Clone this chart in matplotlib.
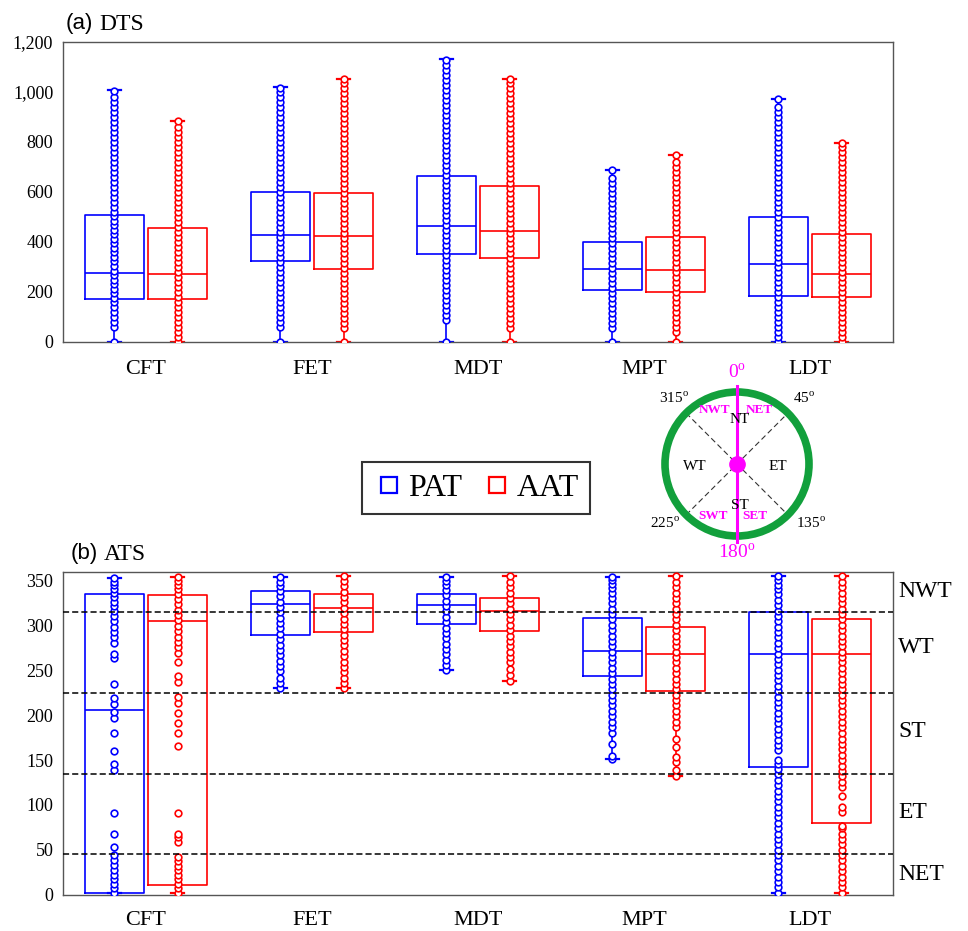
import matplotlib
matplotlib.use("Agg")
import matplotlib.pyplot as plt
from matplotlib.lines import Line2D
from matplotlib.patches import Circle
from matplotlib.ticker import FuncFormatter

plt.rcParams['font.family'] = ['Liberation Serif', 'DejaVu Serif']
plt.rcParams['mathtext.fontset'] = 'custom'
plt.rcParams['mathtext.rm'] = 'Liberation Serif'

W, H = 968, 931

stages = ['CFT', 'FET', 'MDT', 'MPT', 'LDT']
groups = ['PAT', 'AAT']
colors = {'PAT': '#0000ff', 'AAT': '#ff0000'}

# (a) DTS box statistics: whislo, q1, median, q3, whishi
dts_pat = [(0, 172, 276, 508, 1008), (0, 324, 428, 600, 1018), (0, 352, 464, 664, 1132),
           (0, 208, 292, 400, 688), (0, 184, 312, 500, 972)]
dts_aat = [(0, 172, 272, 456, 884), (0, 292, 424, 596, 1052), (0, 336, 444, 624, 1052),
           (0, 200, 288, 420, 748), (0, 180, 272, 432, 796)]

# (b) ATS box statistics
ats_pat = [(2, 2, 206, 335, 353), (230, 290, 324, 339, 354), (251, 302, 323, 336, 354),
           (151, 244, 272, 309, 354), (2, 142, 268, 315, 356)]
ats_aat = [(2, 11, 305, 334, 354), (230, 293, 320, 335, 356), (238, 294, 316, 331, 355),
           (132, 227, 268, 299, 356), (2, 80, 268, 308, 356)]

# individual observations (DTS)
dts_pts_pat = [
    [0, 60, 80, 100, 120, 140, 160, 178, 196, 214, 232, 250, 268, 286, 304, 322, 340, 358, 376,
     394, 412, 430, 448, 466, 484, 502, 520, 540, 560, 580, 600, 620, 640, 660, 680, 700, 720,
     740, 760, 780, 800, 820, 840, 860, 880, 900, 920, 940, 960, 980, 1004],
    [0, 60, 80, 100, 120, 140, 160, 180, 200, 220, 240, 260, 280, 300, 320, 340, 360, 380, 400,
     420, 440, 460, 480, 500, 520, 540, 560, 580, 600, 620, 640, 660, 680, 700, 720, 740, 760,
     780, 800, 820, 840, 860, 880, 900, 920, 940, 960, 980, 1000, 1016],
    [0, 88, 108, 128, 148, 168, 188, 208, 228, 248, 268, 288, 308, 328, 348, 368, 388, 408, 428,
     448, 468, 488, 508, 528, 548, 568, 588, 608, 628, 648, 668, 688, 708, 728, 748, 768, 788,
     808, 828, 848, 868, 888, 908, 928, 948, 968, 988, 1008, 1028, 1048, 1068, 1088, 1108, 1128],
    [0, 56, 76, 96, 116, 136, 156, 176, 196, 216, 236, 256, 276, 296, 316, 336, 356, 376, 396,
     416, 436, 456, 476, 496, 516, 536, 556, 576, 596, 616, 636, 656, 688],
    [0, 20, 40, 60, 80, 100, 120, 140, 160, 180, 200, 220, 240, 260, 280, 300, 320, 340, 360, 380,
     400, 420, 440, 460, 480, 500, 520, 540, 560, 580, 600, 620, 640, 660, 680, 700, 720, 740,
     760, 780, 800, 820, 840, 860, 880, 900, 920, 940, 972],
]
dts_pts_aat = [
    [0, 20, 40, 60, 80, 100, 120, 140, 160, 180, 200, 220, 240, 260, 280, 300, 320, 340, 360, 380,
     400, 420, 440, 460, 480, 500, 520, 540, 560, 580, 600, 620, 640, 660, 680, 700, 720, 740,
     760, 780, 800, 820, 840, 860, 884],
    [0, 56, 76, 96, 116, 136, 156, 176, 196, 216, 236, 256, 276, 296, 316, 336, 356, 376, 396,
     416, 436, 456, 476, 496, 516, 536, 556, 576, 596, 616, 636, 656, 676, 696, 716, 736, 756,
     776, 796, 816, 836, 856, 876, 896, 916, 936, 956, 976, 996, 1016, 1036, 1052],
    [0, 56, 76, 96, 116, 136, 156, 176, 196, 216, 236, 256, 276, 296, 316, 336, 356, 376, 396,
     416, 436, 456, 476, 496, 516, 536, 556, 576, 596, 616, 636, 656, 676, 696, 716, 736, 756,
     776, 796, 816, 836, 856, 876, 896, 916, 936, 956, 976, 996, 1016, 1036, 1052],
    [0, 40, 60, 80, 100, 120, 140, 160, 180, 200, 220, 240, 260, 280, 300, 320, 340, 360, 380, 400,
     420, 440, 460, 480, 500, 520, 540, 560, 580, 600, 620, 640, 660, 680, 700, 720, 748],
    [0, 20, 40, 60, 80, 100, 120, 140, 160, 180, 200, 220, 240, 260, 280, 300, 320, 340, 360, 380,
     400, 420, 440, 460, 480, 500, 520, 540, 560, 580, 600, 620, 640, 660, 680, 700, 720, 740,
     760, 780, 796],
]

# individual observations (ATS)
ats_pts_pat = [
    [2, 7, 12, 17, 22, 27, 33, 38, 44, 53, 67, 91, 139, 146, 160, 180, 197, 204, 213, 219, 235,
     264, 269, 281, 287, 293, 299, 305, 311, 317, 322, 327, 332, 337, 341, 345, 349, 353],
    [230, 236, 242, 249, 255, 261, 267, 273, 279, 285, 291, 297, 303, 309, 315, 321, 327, 333,
     339, 344, 349, 354],
    [251, 256, 262, 268, 274, 280, 286, 292, 298, 304, 310, 316, 322, 328, 334, 340, 345, 350, 354],
    [151, 155, 168, 180, 187, 193, 199, 205, 211, 217, 223, 229, 235, 241, 247, 253, 259, 265,
     271, 277, 283, 289, 295, 301, 307, 313, 319, 325, 331, 337, 342, 347, 351, 354],
    [2, 8, 14, 20, 26, 32, 38, 44, 50, 56, 62, 68, 74, 80, 86, 92, 98, 104, 110, 116, 122, 128,
     134, 140, 146, 150, 161, 167, 173, 179, 185, 191, 197, 203, 209, 215, 221, 227, 233, 239,
     245, 251, 257, 263, 269, 275, 281, 287, 293, 299, 305, 311, 317, 323, 329, 335, 341, 346,
     351, 356],
]
ats_pts_aat = [
    [2, 7, 12, 17, 22, 27, 32, 37, 42, 59, 64, 67, 91, 166, 180, 192, 203, 214, 220, 237, 244,
     259, 270, 276, 282, 288, 294, 300, 306, 312, 318, 324, 330, 336, 341, 346, 350, 354],
    [230, 236, 242, 248, 254, 260, 266, 272, 278, 284, 290, 296, 302, 308, 314, 320, 326, 332,
     338, 344, 350, 356],
    [238, 245, 252, 259, 265, 271, 277, 283, 289, 295, 301, 307, 313, 319, 325, 331, 337, 343,
     349, 355],
    [132, 139, 148, 154, 165, 174, 187, 193, 199, 205, 211, 217, 223, 229, 235, 241, 247, 253,
     259, 265, 271, 277, 283, 289, 295, 301, 307, 313, 319, 325, 331, 337, 343, 349, 356],
    [2, 8, 14, 20, 26, 32, 38, 44, 50, 56, 62, 68, 74, 77, 92, 98, 110, 120, 126, 132, 138, 144,
     150, 156, 162, 168, 174, 180, 187, 193, 199, 205, 211, 217, 223, 229, 235, 241, 247, 253,
     259, 265, 271, 277, 283, 289, 295, 301, 307, 313, 319, 325, 331, 337, 343, 349, 356],
]

sector_bounds = [45, 135, 225, 315]
sector_names = ['NWT', 'WT', 'ST', 'ET', 'NET']
sector_label_y = [338, 276, 182, 92, 22]


def px(x, y):
    return x / W, 1 - y / H


def draw_panel(ax, stats_pat, stats_aat, pts_pat, pts_aat):
    offset = 0.19
    for grp, stats, pts, sgn in (('PAT', stats_pat, pts_pat, -1), ('AAT', stats_aat, pts_aat, 1)):
        c = colors[grp]
        pos = [i + 1 + sgn * offset for i in range(len(stages))]
        bx = [dict(whislo=s[0], q1=s[1], med=s[2], q3=s[3], whishi=s[4], fliers=[]) for s in stats]
        ax.bxp(bx, positions=pos, widths=0.35, capwidths=0.08, showfliers=False,
               boxprops=dict(color=c, lw=1.2), medianprops=dict(color=c, lw=1.2),
               whiskerprops=dict(color=c, lw=1.2), capprops=dict(color=c, lw=1.6),
               manage_ticks=False)
        for p, vals in zip(pos, pts):
            ax.plot([p] * len(vals), vals, 'o', ms=4.8, mfc='white', mec=c, mew=1.2,
                    ls='none', zorder=4)
    ax.set_xlim(0.5, len(stages) + 0.5)
    ax.set_xticks(range(1, len(stages) + 1))
    ax.set_xticklabels(stages, fontsize=16)
    ax.tick_params(length=0)
    ax.tick_params(axis='y', labelsize=13, pad=7)
    for s in ax.spines.values():
        s.set_color('#555555')
        s.set_linewidth(1.0)


fig = plt.figure(figsize=(W / 100, H / 100), dpi=100)

ax1 = fig.add_axes([63 / W, 1 - 342 / H, 830 / W, 300 / H])
draw_panel(ax1, dts_pat, dts_aat, dts_pts_pat, dts_pts_aat)
ax1.set_ylim(0, 1200)
ax1.set_yticks(range(0, 1201, 200))
ax1.yaxis.set_major_formatter(FuncFormatter(lambda v, _: f'{int(v):,}'))
ax1.tick_params(axis='x', pad=13)

ax2 = fig.add_axes([63 / W, 1 - 894.5 / H, 830 / W, 322.5 / H])
draw_panel(ax2, ats_pat, ats_aat, ats_pts_pat, ats_pts_aat)
ax2.set_ylim(0, 360)
ax2.set_yticks(range(0, 351, 50))
ax2.tick_params(axis='x', pad=12)
for b in sector_bounds:
    ax2.axhline(b, color='black', lw=1.1, ls=(0, (4, 2)), zorder=5)
for name, yv in zip(sector_names, sector_label_y):
    ax2.text(1.006, yv, name, transform=ax2.get_yaxis_transform(), fontsize=17,
             va='center', ha='left')

# panel titles
fig.text(*px(66, 24), '(a)', family='Liberation Sans', fontsize=16, va='center')
fig.text(*px(99, 24), 'DTS', fontsize=17, va='center')
fig.text(*px(71, 554), '(b)', family='Liberation Sans', fontsize=16, va='center')
fig.text(*px(104, 554), 'ATS', fontsize=17, va='center')

# legend
handles = [Line2D([], [], marker='s', ls='none', ms=12, mfc='none', mec=colors[g], mew=1.6)
           for g in groups]
leg = fig.legend(handles, groups, loc='center', bbox_to_anchor=px(476, 488), ncol=2,
                 fontsize=23, frameon=True, fancybox=False, handletextpad=0.1,
                 columnspacing=0.6, borderpad=0.35, handlelength=1.0)
leg.get_frame().set_edgecolor('black')
leg.get_frame().set_linewidth(1.5)

# compass
axc = fig.add_axes([640 / W, 1 - 560 / H, 200 / W, 200 / H])
axc.set_xlim(640, 840)
axc.set_ylim(560, 360)
axc.axis('off')
cx, cy, r = 737, 464, 72
axc.add_patch(Circle((cx, cy), r, fill=False, ec='#12a03c', lw=5.5, zorder=2))
d = r * 0.707
axc.plot([cx - d, cx + d], [cy - d, cy + d], color='#333333', lw=0.8, ls=(0, (5, 3)), zorder=1)
axc.plot([cx - d, cx + d], [cy + d, cy - d], color='#333333', lw=0.8, ls=(0, (5, 3)), zorder=1)
axc.plot([cx, cx], [cy - 78, cy + 78], color='#ff00ff', lw=2.2, zorder=3)
axc.plot(cx, cy, 'o', color='#ff00ff', ms=11, zorder=4)
axc.text(cx, 373, r'0$^{\mathrm{o}}$', color='#ff00ff', fontsize=14, ha='center', va='center')
axc.text(cx, 553, r'180$^{\mathrm{o}}$', color='#ff00ff', fontsize=14, ha='center', va='center')
axc.text(695, 467, 'WT', fontsize=11, ha='center', va='center')
axc.text(778, 467, 'ET', fontsize=11, ha='center', va='center')
axc.text(740, 420, 'NT', fontsize=11, ha='center', va='center')
axc.text(740, 506, 'ST', fontsize=11, ha='center', va='center')
for tx, ty, s in ((715, 410, 'NWT'), (759, 410, 'NET'), (713, 516, 'SWT'), (755, 516, 'SET')):
    axc.text(tx, ty, s, color='#ff00ff', fontsize=9.5, fontweight='bold', ha='center', va='center')
for tx, ty, s in ((674, 398, '315'), (804, 398, '45'), (665, 523, '225'), (811, 523, '135')):
    axc.text(tx, ty, s + r'$^{\mathrm{o}}$', fontsize=11, ha='center', va='center')

fig.savefig('out.png', dpi=100)
